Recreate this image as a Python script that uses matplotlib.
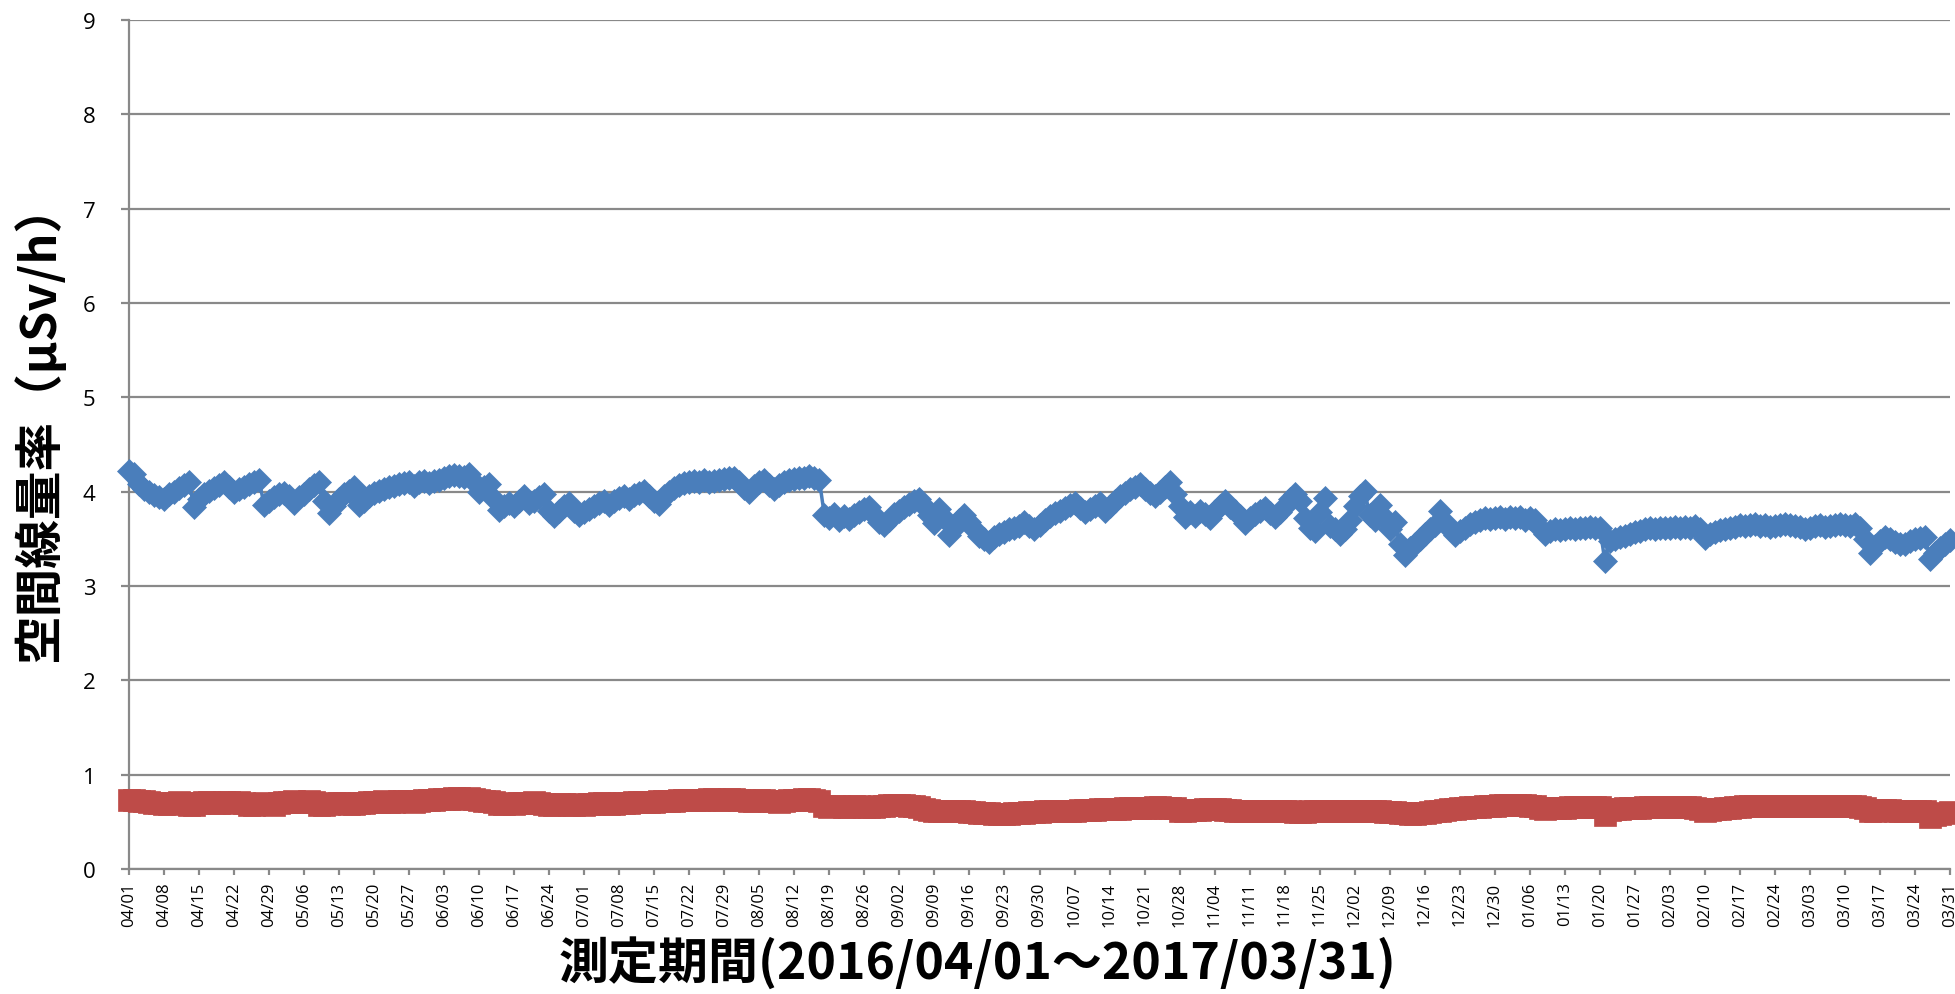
import numpy as np
import pandas as pd
import matplotlib
matplotlib.use("Agg")
import matplotlib.pyplot as plt

plt.rcParams['font.family'] = ['Open Sans', 'Noto Sans CJK JP', 'DejaVu Sans']

# 測定日 (2016/04/01 - 2017/03/31)
days = pd.date_range("2016-04-01", "2017-03-31", freq="D")
day_labels = [d.strftime("%m/%d") for d in days]

# 青: 地点A (μSv/h), 1行 = 1週間
blue_vals = [
    4.22, 4.19, 4.08, 4.03, 4.00, 3.96, 3.94,
    3.92, 3.97, 4.00, 4.04, 4.07, 4.10, 3.84,
    3.92, 3.98, 4.01, 4.04, 4.07, 4.10, 4.05,
    4.00, 4.03, 4.05, 4.08, 4.10, 4.12, 3.86,
    3.90, 3.94, 3.97, 3.99, 3.95, 3.88, 3.94,
    3.98, 4.03, 4.07, 4.10, 3.90, 3.77, 3.85,
    3.92, 3.97, 4.01, 4.05, 3.86, 3.90, 3.95,
    3.99, 4.01, 4.03, 4.05, 4.06, 4.08, 4.09,
    4.10, 4.06, 4.10, 4.11, 4.09, 4.11, 4.12,
    4.15, 4.17, 4.18, 4.17, 4.16, 4.19, 4.10,
    4.00, 4.05, 4.08, 3.92, 3.81, 3.85, 3.88,
    3.85, 3.90, 3.95, 3.88, 3.90, 3.94, 3.97,
    3.80, 3.74, 3.80, 3.85, 3.88, 3.80, 3.75,
    3.78, 3.82, 3.85, 3.88, 3.90, 3.86, 3.90,
    3.93, 3.95, 3.92, 3.96, 3.99, 4.01, 3.95,
    3.90, 3.87, 3.95, 4.00, 4.04, 4.07, 4.09,
    4.10, 4.11, 4.10, 4.12, 4.10, 4.11, 4.12,
    4.13, 4.14, 4.15, 4.10, 4.04, 4.00, 4.06,
    4.10, 4.12, 4.07, 4.03, 4.07, 4.10, 4.12,
    4.13, 4.14, 4.15, 4.17, 4.14, 4.12, 3.75,
    3.72, 3.76, 3.70, 3.74, 3.71, 3.75, 3.78,
    3.82, 3.84, 3.75, 3.68, 3.65, 3.70, 3.76,
    3.80, 3.84, 3.87, 3.90, 3.92, 3.85, 3.75,
    3.67, 3.82, 3.72, 3.54, 3.62, 3.70, 3.75,
    3.68, 3.60, 3.53, 3.50, 3.47, 3.52, 3.55,
    3.57, 3.60, 3.62, 3.64, 3.68, 3.64, 3.60,
    3.65, 3.70, 3.74, 3.77, 3.80, 3.83, 3.86,
    3.88, 3.83, 3.78, 3.82, 3.85, 3.88, 3.80,
    3.85, 3.90, 3.95, 3.99, 4.03, 4.05, 4.08,
    4.03, 3.99, 3.95, 4.00, 4.05, 4.10, 3.97,
    3.85, 3.73, 3.78, 3.74, 3.80, 3.76, 3.72,
    3.80, 3.85, 3.90, 3.84, 3.80, 3.74, 3.67,
    3.72, 3.76, 3.80, 3.83, 3.77, 3.73, 3.78,
    3.85, 3.92, 3.97, 3.90, 3.72, 3.62, 3.58,
    3.78, 3.93, 3.64, 3.60, 3.55, 3.60, 3.70,
    3.85, 3.95, 4.01, 3.75, 3.70, 3.86, 3.72,
    3.60, 3.68, 3.45, 3.33, 3.40, 3.45, 3.50,
    3.55, 3.60, 3.65, 3.79, 3.68, 3.60, 3.54,
    3.58, 3.62, 3.66, 3.68, 3.70, 3.72, 3.71,
    3.72, 3.73, 3.71, 3.73, 3.72, 3.73, 3.70,
    3.72, 3.70, 3.62, 3.55, 3.58, 3.60, 3.59,
    3.60, 3.61, 3.60, 3.62, 3.61, 3.63, 3.62,
    3.62, 3.27, 3.48, 3.50, 3.52, 3.53, 3.55,
    3.57, 3.58, 3.60, 3.61, 3.60, 3.62, 3.61,
    3.62, 3.63, 3.62, 3.63, 3.62, 3.64, 3.60,
    3.51, 3.55, 3.57, 3.59, 3.60, 3.61, 3.63,
    3.65, 3.64, 3.65, 3.66, 3.64, 3.65, 3.63,
    3.64, 3.65, 3.66, 3.65, 3.64, 3.63, 3.60,
    3.62, 3.64, 3.65, 3.63, 3.64, 3.65, 3.66,
    3.65, 3.64, 3.66, 3.62, 3.50, 3.35, 3.42,
    3.48, 3.52, 3.50, 3.47, 3.45, 3.45, 3.48,
    3.50, 3.51, 3.52, 3.29, 3.35, 3.40, 3.45,
    3.49,
]

# 赤: 地点B (μSv/h)
red_vals = [
    0.73, 0.73, 0.72, 0.72, 0.71, 0.70, 0.70,
    0.69, 0.69, 0.70, 0.71, 0.70, 0.68, 0.68,
    0.70, 0.71, 0.71, 0.70, 0.70, 0.71, 0.71,
    0.70, 0.71, 0.70, 0.68, 0.68, 0.69, 0.70,
    0.69, 0.68, 0.70, 0.71, 0.71, 0.72, 0.71,
    0.71, 0.72, 0.71, 0.68, 0.68, 0.69, 0.70,
    0.70, 0.70, 0.69, 0.69, 0.70, 0.70, 0.71,
    0.71, 0.71, 0.72, 0.71, 0.71, 0.72, 0.72,
    0.72, 0.71, 0.72, 0.73, 0.73, 0.73, 0.74,
    0.74, 0.74, 0.75, 0.75, 0.74, 0.75, 0.74,
    0.73, 0.72, 0.72, 0.71, 0.69, 0.69, 0.70,
    0.69, 0.70, 0.70, 0.70, 0.71, 0.70, 0.69,
    0.68, 0.68, 0.69, 0.69, 0.68, 0.68, 0.69,
    0.68, 0.69, 0.69, 0.70, 0.70, 0.69, 0.69,
    0.70, 0.70, 0.70, 0.71, 0.71, 0.71, 0.71,
    0.71, 0.72, 0.72, 0.72, 0.72, 0.73, 0.73,
    0.73, 0.73, 0.73, 0.73, 0.74, 0.74, 0.73,
    0.73, 0.74, 0.74, 0.73, 0.73, 0.72, 0.72,
    0.73, 0.73, 0.72, 0.72, 0.71, 0.72, 0.73,
    0.73, 0.73, 0.74, 0.74, 0.73, 0.72, 0.67,
    0.66, 0.67, 0.67, 0.66, 0.66, 0.67, 0.67,
    0.66, 0.66, 0.66, 0.67, 0.67, 0.68, 0.68,
    0.68, 0.68, 0.67, 0.67, 0.66, 0.64, 0.63,
    0.62, 0.62, 0.62, 0.61, 0.62, 0.62, 0.61,
    0.60, 0.60, 0.59, 0.59, 0.59, 0.58, 0.58,
    0.58, 0.58, 0.59, 0.59, 0.59, 0.60, 0.60,
    0.60, 0.61, 0.61, 0.62, 0.62, 0.62, 0.62,
    0.62, 0.63, 0.63, 0.63, 0.63, 0.64, 0.64,
    0.64, 0.64, 0.64, 0.65, 0.65, 0.65, 0.65,
    0.65, 0.65, 0.66, 0.66, 0.65, 0.65, 0.65,
    0.62, 0.62, 0.63, 0.63, 0.63, 0.64, 0.64,
    0.64, 0.64, 0.63, 0.63, 0.62, 0.62, 0.61,
    0.61, 0.62, 0.62, 0.62, 0.62, 0.61, 0.61,
    0.61, 0.61, 0.60, 0.60, 0.60, 0.61, 0.61,
    0.61, 0.61, 0.61, 0.61, 0.61, 0.61, 0.61,
    0.61, 0.61, 0.61, 0.61, 0.61, 0.61, 0.60,
    0.60, 0.60, 0.59, 0.59, 0.58, 0.58, 0.59,
    0.59, 0.60, 0.61, 0.62, 0.63, 0.64, 0.64,
    0.65, 0.65, 0.66, 0.66, 0.66, 0.67, 0.67,
    0.67, 0.68, 0.68, 0.68, 0.68, 0.68, 0.68,
    0.67, 0.67, 0.65, 0.64, 0.65, 0.65, 0.65,
    0.65, 0.66, 0.66, 0.66, 0.66, 0.66, 0.66,
    0.66, 0.57, 0.63, 0.64, 0.64, 0.65, 0.65,
    0.65, 0.65, 0.66, 0.66, 0.66, 0.66, 0.66,
    0.66, 0.66, 0.66, 0.66, 0.66, 0.65, 0.64,
    0.61, 0.63, 0.64, 0.64, 0.65, 0.65, 0.66,
    0.66, 0.67, 0.67, 0.67, 0.67, 0.67, 0.67,
    0.67, 0.67, 0.67, 0.67, 0.67, 0.67, 0.67,
    0.67, 0.67, 0.67, 0.67, 0.67, 0.67, 0.67,
    0.67, 0.67, 0.67, 0.66, 0.65, 0.62, 0.62,
    0.63, 0.63, 0.63, 0.62, 0.62, 0.62, 0.62,
    0.61, 0.61, 0.61, 0.55, 0.57, 0.58, 0.59,
    0.60,
]

y_ticks = list(range(0, 10))

blue = "#4A7EBB"
red = "#BE4B48"
grid_c = "#898989"

fig = plt.figure(figsize=(19.55, 9.95), dpi=100)
ax = fig.add_axes([129 / 1955, 1 - 870 / 995, (1950 - 129) / 1955, (870 - 21) / 995])

x = np.arange(len(days))
ax.plot(x, red_vals, color=red, lw=2.5, marker="s", ms=15.5, mec=red, mew=0.5,
        clip_on=False, zorder=3)
ax.plot(x, blue_vals, color=blue, lw=2.5, marker="D", ms=12, mec=blue, mew=0.5,
        clip_on=False, zorder=4)

ax.set_xlim(0, len(days) - 1)
ax.set_ylim(0, 9)
ax.set_yticks(y_ticks)
ax.set_yticklabels([str(v) for v in y_ticks], fontsize=16)
tick_pos = x[::7]
ax.set_xticks(tick_pos)
ax.set_xticklabels([day_labels[i] for i in tick_pos], rotation=90, fontsize=12)

ax.grid(axis="y", color=grid_c, lw=1.6)
ax.set_axisbelow(True)
for s in ["top", "right"]:
    ax.spines[s].set_visible(False)
for s in ["left", "bottom"]:
    ax.spines[s].set_color(grid_c)
    ax.spines[s].set_linewidth(1.6)
ax.tick_params(axis="y", length=6, width=1.6, color=grid_c, pad=18)
ax.tick_params(axis="x", length=4, width=1.6, color=grid_c, pad=5)

fig.text(38 / 1955, 1 - 421 / 995, "空間線量率（μSv/h）", rotation=90,
         ha="center", va="center", fontsize=35, fontweight="bold",
         family=["Noto Sans CJK JP", "DejaVu Sans"])
fig.text(0.5, 1 - 963 / 995, "測定期間(2016/04/01～2017/03/31)",
         ha="center", va="center", fontsize=36, fontweight="bold",
         family=["Noto Sans CJK JP", "DejaVu Sans"])

fig.savefig("out.png", dpi=100)
